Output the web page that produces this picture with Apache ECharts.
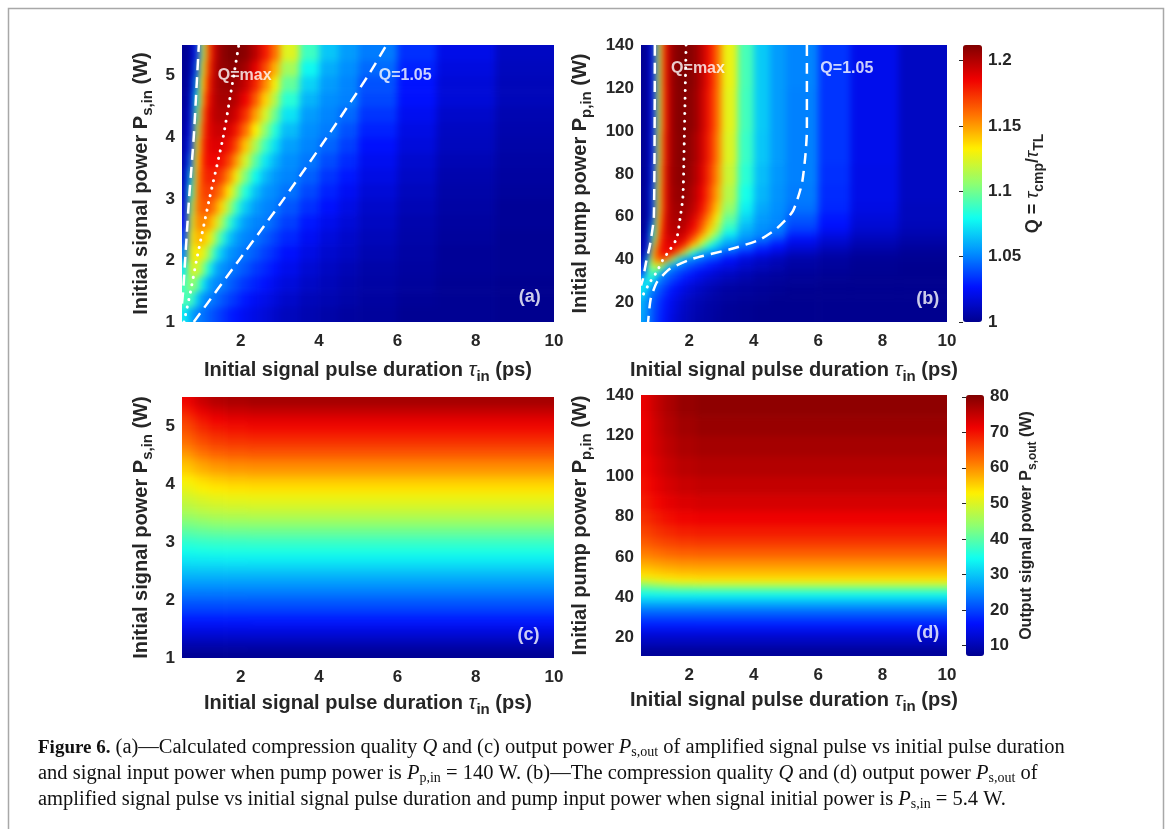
<!DOCTYPE html>
<html>
<head>
<meta charset="utf-8">
<title>Figure 6</title>
<script src="https://cdn.jsdelivr.net/npm/echarts@6.0.0/dist/echarts.min.js"></script>
<style>
  html, body { margin: 0; padding: 0; background: #fff; }
  #wrap { position: relative; width: 1166px; height: 829px; overflow: hidden; }
  #wrap > div { position: absolute; left: 0; top: 0; width: 1166px; height: 829px; }
  /* smooth shading of the colour maps, clipped to the four plot boxes */
  #heat {
    filter: blur(3.5px);
    clip-path: path('M182 45 H554 V322 H182 Z M641 45 H947 V322 H641 Z M182 397 H554 V658 H182 Z M641 395 H947 V656 H641 Z');
  }
</style>
</head>
<body>
<div id="wrap">
  <div id="heat"></div>
  <div id="chart"></div>
</div>
<script>
// ---- axes / ticks ----
const tauTicks = [2, 4, 6, 8, 10];
const signalTicks = [1, 2, 3, 4, 5];
const pumpTicks = [20, 40, 60, 80, 100, 120, 140];
const qTicks = [1, 1.05, 1.1, 1.15, 1.2];
const powerTicks = [10, 20, 30, 40, 50, 60, 70, 80];

// cell edges (tau in ps, powers in W)
const tauEdges = [0.5, 0.65, 0.8, 0.95, 1.1, 1.25, 1.4, 1.6, 1.8, 2.0, 2.25, 2.5, 2.75, 3.0, 3.5, 4.0, 4.5, 5.0, 6.0, 7.0, 8.5, 10];
const signalEdgesA = [1, 1.25, 1.5, 1.75, 2, 2.25, 2.5, 2.75, 3, 3.25, 3.5, 3.75, 4, 4.25, 4.5, 4.75, 5, 5.25, 5.5];
const pumpEdgesB = [11, 15, 19, 23, 27, 30, 33, 36, 39, 42, 45, 48, 51, 54, 58, 62, 67, 75, 85, 100, 120, 140];
const tauEdgesCD = [0.5, 0.7, 0.9, 1.2, 1.6, 2.2, 10];
const signalEdgesC = [1, 1.15, 1.3, 1.45, 1.6, 1.75, 1.9, 2.05, 2.2, 2.35, 2.5, 2.65, 2.8, 2.95, 3.1, 3.25, 3.4, 3.55, 3.7, 3.85, 4.0, 4.15, 4.3, 4.45, 4.6, 4.75, 4.9, 5.05, 5.2, 5.35, 5.5];
const pumpEdgesD = [11, 16, 21, 25, 29, 32, 35, 38, 40, 42, 44, 46, 48, 50, 53, 56, 60, 65, 70, 76, 83, 91, 100, 110, 120, 130, 140];

// (a) compression quality Q, rows from P_s,in = 1 W upwards
const qA = [
  [1.075,1.060,1.051,1.047,1.043,1.039,1.035,1.030,1.027,1.023,1.020,1.017,1.014,1.011,1.008,1.006,1.004,1.003,1.001,1.001,1.000],
  [1.091,1.092,1.069,1.054,1.050,1.047,1.042,1.037,1.033,1.028,1.024,1.021,1.018,1.014,1.010,1.008,1.006,1.004,1.002,1.001,1.000],
  [1.089,1.110,1.100,1.076,1.059,1.052,1.050,1.044,1.039,1.034,1.030,1.026,1.022,1.018,1.013,1.010,1.007,1.005,1.003,1.001,1.000],
  [1.074,1.124,1.124,1.107,1.083,1.064,1.054,1.050,1.046,1.041,1.035,1.031,1.027,1.022,1.016,1.012,1.009,1.006,1.004,1.002,1.001],
  [1.050,1.128,1.135,1.129,1.111,1.088,1.067,1.055,1.051,1.047,1.042,1.036,1.032,1.026,1.020,1.015,1.012,1.008,1.005,1.002,1.001],
  [1.036,1.126,1.145,1.144,1.134,1.114,1.089,1.067,1.056,1.051,1.048,1.042,1.037,1.031,1.024,1.018,1.014,1.010,1.006,1.003,1.001],
  [1.025,1.117,1.152,1.155,1.151,1.138,1.114,1.088,1.068,1.056,1.051,1.049,1.043,1.036,1.028,1.022,1.017,1.012,1.007,1.004,1.002],
  [1.018,1.104,1.155,1.165,1.165,1.157,1.138,1.112,1.087,1.067,1.056,1.051,1.049,1.041,1.033,1.026,1.020,1.014,1.009,1.005,1.002],
  [1.013,1.086,1.152,1.170,1.172,1.169,1.157,1.134,1.108,1.083,1.065,1.055,1.052,1.047,1.038,1.030,1.024,1.017,1.011,1.006,1.003],
  [1.010,1.065,1.145,1.173,1.178,1.178,1.171,1.153,1.129,1.102,1.078,1.063,1.055,1.051,1.043,1.034,1.028,1.020,1.013,1.007,1.004],
  [1.007,1.045,1.136,1.174,1.184,1.185,1.182,1.170,1.149,1.122,1.095,1.074,1.062,1.053,1.048,1.039,1.032,1.023,1.015,1.009,1.005],
  [1.005,1.032,1.123,1.171,1.187,1.190,1.190,1.182,1.166,1.141,1.113,1.089,1.072,1.057,1.051,1.044,1.036,1.026,1.018,1.011,1.006],
  [1.004,1.023,1.108,1.165,1.188,1.194,1.195,1.191,1.179,1.159,1.132,1.106,1.084,1.064,1.053,1.049,1.040,1.030,1.020,1.012,1.007],
  [1.003,1.017,1.093,1.158,1.188,1.198,1.200,1.199,1.191,1.174,1.149,1.123,1.099,1.073,1.056,1.051,1.045,1.034,1.023,1.014,1.008],
  [1.002,1.012,1.075,1.147,1.183,1.198,1.203,1.203,1.198,1.185,1.164,1.139,1.115,1.085,1.062,1.053,1.050,1.038,1.026,1.017,1.010],
  [1.001,1.009,1.057,1.136,1.178,1.198,1.205,1.206,1.204,1.195,1.177,1.154,1.130,1.097,1.069,1.056,1.051,1.040,1.027,1.017,1.010],
  [1.001,1.006,1.041,1.123,1.171,1.196,1.207,1.209,1.209,1.203,1.188,1.168,1.145,1.111,1.078,1.060,1.053,1.045,1.030,1.019,1.011],
  [1.001,1.005,1.030,1.110,1.164,1.193,1.207,1.212,1.212,1.209,1.198,1.180,1.159,1.125,1.089,1.066,1.056,1.049,1.033,1.021,1.012]
];

// (b) compression quality Q, rows from P_p,in = 11 W upwards
const qB = [
  [1.058,1.049,1.040,1.033,1.028,1.023,1.018,1.014,1.011,1.008,1.006,1.005,1.003,1.002,1.001,1.000,1.000,1.000,1.000,1.000,1.000],
  [1.060,1.049,1.041,1.034,1.029,1.024,1.020,1.015,1.012,1.009,1.007,1.005,1.004,1.002,1.001,1.000,1.000,1.000,1.000,1.000,1.000],
  [1.061,1.050,1.042,1.036,1.030,1.026,1.021,1.017,1.013,1.010,1.008,1.006,1.005,1.003,1.002,1.001,1.000,1.000,1.000,1.000,1.000],
  [1.074,1.054,1.047,1.041,1.035,1.030,1.025,1.021,1.017,1.014,1.011,1.008,1.006,1.004,1.003,1.002,1.001,1.000,1.000,1.000,1.000],
  [1.073,1.078,1.052,1.047,1.041,1.036,1.030,1.025,1.021,1.017,1.014,1.011,1.009,1.006,1.004,1.003,1.002,1.001,1.000,1.000,1.000],
  [1.057,1.084,1.082,1.052,1.047,1.042,1.037,1.032,1.027,1.023,1.019,1.015,1.013,1.010,1.007,1.004,1.003,1.002,1.001,1.000,1.000],
  [1.037,1.087,1.095,1.085,1.054,1.049,1.044,1.038,1.034,1.029,1.024,1.021,1.017,1.014,1.010,1.007,1.005,1.003,1.002,1.001,1.000],
  [1.022,1.093,1.121,1.125,1.114,1.076,1.053,1.049,1.043,1.038,1.033,1.028,1.024,1.020,1.015,1.011,1.008,1.005,1.003,1.001,1.000],
  [1.010,1.071,1.144,1.163,1.165,1.154,1.115,1.074,1.055,1.050,1.045,1.039,1.035,1.026,1.018,1.013,1.010,1.006,1.004,1.002,1.001],
  [1.006,1.041,1.136,1.175,1.184,1.185,1.177,1.150,1.115,1.082,1.061,1.053,1.050,1.040,1.031,1.024,1.018,1.012,1.007,1.004,1.002],
  [1.004,1.028,1.115,1.165,1.183,1.188,1.188,1.181,1.163,1.136,1.105,1.080,1.065,1.054,1.045,1.033,1.026,1.018,1.012,1.007,1.004],
  [1.003,1.020,1.097,1.155,1.182,1.191,1.193,1.192,1.182,1.162,1.135,1.107,1.085,1.063,1.053,1.046,1.036,1.024,1.016,1.010,1.006],
  [1.002,1.013,1.080,1.148,1.181,1.194,1.197,1.197,1.191,1.176,1.154,1.128,1.105,1.077,1.058,1.052,1.046,1.032,1.021,1.013,1.008],
  [1.001,1.009,1.061,1.139,1.178,1.195,1.200,1.200,1.196,1.185,1.165,1.142,1.119,1.089,1.064,1.054,1.051,1.038,1.026,1.016,1.010],
  [1.001,1.006,1.041,1.128,1.175,1.195,1.202,1.203,1.201,1.191,1.174,1.152,1.129,1.098,1.070,1.056,1.052,1.042,1.028,1.018,1.011],
  [1.001,1.006,1.037,1.121,1.170,1.194,1.203,1.205,1.204,1.197,1.182,1.162,1.140,1.108,1.076,1.059,1.053,1.047,1.031,1.020,1.011],
  [1.001,1.006,1.037,1.120,1.170,1.194,1.205,1.207,1.207,1.200,1.187,1.168,1.147,1.115,1.081,1.062,1.054,1.049,1.032,1.021,1.012],
  [1.001,1.005,1.032,1.116,1.168,1.195,1.206,1.209,1.209,1.203,1.191,1.173,1.152,1.120,1.085,1.064,1.055,1.050,1.033,1.021,1.012],
  [1.001,1.004,1.028,1.110,1.165,1.193,1.206,1.210,1.210,1.205,1.194,1.177,1.156,1.124,1.088,1.066,1.056,1.050,1.034,1.022,1.012],
  [1.001,1.004,1.025,1.105,1.161,1.191,1.207,1.211,1.210,1.208,1.196,1.179,1.159,1.126,1.090,1.067,1.056,1.050,1.034,1.022,1.012],
  [1.001,1.004,1.025,1.105,1.162,1.192,1.207,1.212,1.212,1.209,1.198,1.181,1.160,1.128,1.091,1.067,1.056,1.051,1.034,1.022,1.012]
];

// (c) output signal power (W), rows from P_s,in = 1 W upwards
const powerC = [
  [7.5,7.5,7.5,7.5,7.5,7.5],
  [9.5,9.5,9.5,9.5,9.5,9.5],
  [12,12,12,12,12,12],
  [14.5,14.5,14.5,14.5,14.5,14.5],
  [17,17,17,17,17,17],
  [19.5,19.5,19.5,19.5,19.5,19.5],
  [21.5,21.5,21.5,21.5,21.5,21.5],
  [23.8,23.8,23.8,23.8,23.8,23.8],
  [26,26,26,26,26,26],
  [28.4,28.4,28.4,28.4,28.4,28.4],
  [30.7,30.8,30.9,30.9,31,31],
  [32.8,32.9,33.1,33.2,33.3,33.3],
  [35.1,35.3,35.5,35.7,35.8,35.8],
  [37,37.3,37.6,37.8,37.9,38],
  [39.7,40,40.4,40.7,40.9,41],
  [42.3,42.7,43.2,43.7,43.9,44],
  [45,45.5,46.1,46.6,46.9,47],
  [47.2,47.8,48.5,49,49.3,49.5],
  [48.9,49.6,50.3,51,51.3,51.5],
  [51,51.8,52.7,53.4,53.8,54],
  [52.5,53.4,54.4,55.3,55.8,56],
  [55,56,57.2,58.2,58.7,59],
  [56.5,57.6,59,60.1,60.7,61],
  [59,60.3,61.8,63,63.7,64],
  [61.3,62.6,64.2,65.5,66.1,66.5],
  [63.1,64.5,66.1,67.4,68.1,68.5],
  [64.9,66.3,68,69.4,70.1,70.5],
  [66.5,68,69.8,71.3,72.1,72.5],
  [68.7,70.3,72.2,73.7,74.6,75],
  [71,72.6,74.6,76.2,77,77.5]
];

// (d) output signal power (W), rows from P_p,in = 11 W upwards
const powerD = [
  [8,8,8,8,8,8],
  [11,11,11,11,11,11],
  [14,14,14,14,14,14],
  [17.5,17.5,17.5,17.5,17.5,17.5],
  [20.5,20.5,20.5,20.5,20.5,20.5],
  [23,23,23,23,23,23],
  [27,27,27,27,27,27],
  [30.5,30.5,30.5,30.5,30.5,30.5],
  [33.5,33.5,33.5,33.5,33.5,33.5],
  [36,36.2,36.5,36.7,36.9,37],
  [40,40.5,41.1,41.8,42.3,42.5],
  [45,45.8,46.8,47.8,48.6,49],
  [50.5,51.1,51.9,52.6,53.2,53.5],
  [54,54.4,54.9,55.4,55.8,56],
  [56,56.4,56.9,57.4,57.8,58],
  [58.5,58.9,59.4,59.9,60.3,60.5],
  [61.3,61.8,62.4,63.1,63.6,63.8],
  [63.8,64.4,65.2,65.9,66.5,66.8],
  [65.8,66.5,67.4,68.2,68.9,69.3],
  [67.5,68.3,69.3,70.3,71.1,71.5],
  [69,69.9,71,72.2,73,73.5],
  [70,71,72.3,73.5,74.5,75],
  [70.8,71.9,73.3,74.7,75.8,76.3],
  [71.5,72.7,74.2,75.7,76.9,77.5],
  [71.5,72.9,74.7,76.4,77.8,78.5],
  [71.8,73.3,75.2,77,78.6,79.3]
];

// Q = 1.05 contours and Q = max ridge
const contourARight = [[0.8, 1], [1.95, 2], [3.1, 3], [4.2, 4], [5.25, 5], [5.72, 5.5]];
const contourALeft = [[0.5, 1.3], [0.53, 1.5], [0.58, 2], [0.68, 3], [0.8, 4], [0.87, 4.8], [0.93, 5.5]];
const ridgeA = [[0.55, 1], [0.72, 1.5], [0.87, 2], [1.2, 3], [1.55, 4], [1.82, 5], [1.95, 5.5]];
const contourBRight = [[5.65, 140], [5.65, 100], [5.6, 88], [5.49, 75], [5.21, 62.5], [4.72, 54.6], [4.19, 49.4], [3.35, 45.2], [2.11, 40.5], [1.4, 35.8], [1.0, 29.7], [0.8, 21.7], [0.72, 11]];
const contourBLeft = [[0.93, 140], [0.9, 60], [0.78, 47], [0.66, 39], [0.56, 31], [0.5, 28]];
const ridgeB = [[1.9, 140], [1.83, 85], [1.8, 69], [1.71, 59], [1.61, 50], [1.4, 44.7], [1.18, 40], [0.99, 34.4], [0.78, 29.6], [0.56, 23.5], [0.5, 21]];

// ---- styling ----
const FONT = '"Liberation Sans", Arial, sans-serif';
const SERIF = '"Liberation Serif", "Times New Roman", serif';
const INK = '#262626';
const jet = ['#00008f', '#0010ff', '#008fff', '#10fff0', '#8fff70', '#fff000', '#ff7000', '#f00000', '#800000'];

// plot boxes (px), shared by both layers
const boxes = [
  { left: 182, top: 45, width: 372, height: 277 },
  { left: 641, top: 45, width: 306, height: 277 },
  { left: 182, top: 397, width: 372, height: 261 },
  { left: 641, top: 395, width: 306, height: 261 }
];
const ranges = [
  { x: [0.5, 10], y: [1, 5.5] },
  { x: [0.5, 10], y: [11, 140] },
  { x: [0.5, 10], y: [1, 5.5] },
  { x: [0.5, 10], y: [11, 140] }
];

const tickText = { color: INK, fontSize: 17, fontWeight: 'bold', fontFamily: FONT };
const titleText = {
  color: INK, fontSize: 20, fontWeight: 'bold', fontFamily: FONT,
  rich: {
    sub: { fontSize: 15, fontWeight: 'bold', fontFamily: FONT, color: INK, padding: [13, 0, 0, 0] },
    tau: { fontSize: 21, fontStyle: 'italic', fontWeight: 'normal', fontFamily: FONT, color: INK }
  }
};

// one rectangle per cell: [x0, x1, y0, y1, value]
function cells(xEdges, yEdges, rows) {
  const out = [];
  rows.forEach((row, j) => {
    row.forEach((v, i) => out.push([xEdges[i], xEdges[i + 1], yEdges[j], yEdges[j + 1], v]));
  });
  return out;
}

// border cells run a little past the box so the blur has colour to work with
const PAD = 12;
function cellRenderer(range) {
  return (params, api) => {
    const x0 = api.value(0), x1 = api.value(1), y0 = api.value(2), y1 = api.value(3);
    const a = api.coord([x0, y1]);
    const b = api.coord([x1, y0]);
    let l = a[0], t = a[1], r = b[0] + 0.6, btm = b[1] + 0.6;
    if (x0 <= range.x[0]) l -= PAD;
    if (x1 >= range.x[1]) r += PAD;
    if (y0 <= range.y[0]) btm += PAD;
    if (y1 >= range.y[1]) t -= PAD;
    return { type: 'rect', shape: { x: l, y: t, width: r - l, height: btm - t }, style: { fill: api.visual('color') } };
  };
}

function heat(idx, data) {
  return {
    type: 'custom', xAxisIndex: idx, yAxisIndex: idx, data,
    encode: { x: [0, 1], y: [2, 3] }, renderItem: cellRenderer(ranges[idx]), clip: false, silent: true
  };
}

function xAxisFor(gridIndex, gap) {
  return {
    type: 'value', gridIndex, min: 0.5, max: 10, z: 5,
    axisLine: { show: false }, axisTick: { show: false }, splitLine: { show: false },
    axisLabel: { ...tickText, margin: 11, customValues: tauTicks },
    name: 'Initial signal pulse duration {tau|τ}{sub|in} (ps)',
    nameLocation: 'middle', nameGap: gap, nameTextStyle: titleText
  };
}

function yAxisFor(gridIndex, ticks, name, gap) {
  return {
    type: 'value', gridIndex, min: ranges[gridIndex].y[0], max: ranges[gridIndex].y[1], z: 5,
    axisLine: { show: false }, axisTick: { show: false }, splitLine: { show: false },
    axisLabel: { ...tickText, margin: 7, customValues: ticks },
    name, nameLocation: 'middle', nameGap: gap, nameTextStyle: titleText
  };
}

function colorbarAxis(gridIndex, min, max, ticks, name, gap, fontSize) {
  return {
    type: 'value', gridIndex, min, max, position: 'right', z: 10,
    axisLine: { show: false }, splitLine: { show: false },
    axisTick: { show: true, inside: true, length: 4, customValues: ticks, lineStyle: { color: INK } },
    axisLabel: { ...tickText, margin: 6, customValues: ticks },
    name, nameLocation: 'middle', nameRotate: 90, nameGap: gap, nameMoveOverlap: false,
    nameTextStyle: { ...titleText, fontSize, rich: {
      sub: { fontSize: fontSize - 4, fontWeight: 'bold', fontFamily: FONT, color: INK, padding: [12, 0, 0, 0] },
      tau: { fontSize: fontSize + 1, fontStyle: 'italic', fontWeight: 'normal', fontFamily: FONT, color: INK }
    } }
  };
}

function curve(idx, data, dotted) {
  return {
    type: 'line', xAxisIndex: idx, yAxisIndex: idx, data, symbol: 'none', smooth: 0.2,
    silent: true, z: 5,
    lineStyle: dotted
      ? { color: '#fff', width: 3, type: [0.1, 7.5], cap: 'round' }
      : { color: '#fff', width: 2.5, type: [11, 7] }
  };
}

function notes(idx, items) {
  return {
    type: 'scatter', xAxisIndex: idx, yAxisIndex: idx, symbolSize: 0, silent: true, z: 6,
    data: items.map(([name, x, y, size]) => ({
      name, value: [x, y],
      label: { show: true, position: 'inside', formatter: '{b}', color: '#fff', fontWeight: 'bold', fontFamily: FONT, fontSize: size }
    }))
  };
}

// ---- colour-map layer ----
const heatChart = echarts.init(document.getElementById('heat'), null, { renderer: 'canvas' });
heatChart.setOption({
  animation: false,
  grid: boxes.map(b => ({ ...b, containLabel: false, outerBoundsMode: 'none' })),
  xAxis: ranges.map((r, i) => ({ type: 'value', gridIndex: i, show: false, min: r.x[0], max: r.x[1] })),
  yAxis: ranges.map((r, i) => ({ type: 'value', gridIndex: i, show: false, min: r.y[0], max: r.y[1] })),
  visualMap: [
    { type: 'continuous', show: false, seriesIndex: [0, 1], dimension: 4, min: 1, max: 1.212, inRange: { color: jet } },
    { type: 'continuous', show: false, seriesIndex: [2, 3], dimension: 4, min: 7, max: 80.5, inRange: { color: jet } }
  ],
  series: [
    heat(0, cells(tauEdges, signalEdgesA, qA)),
    heat(1, cells(tauEdges, pumpEdgesB, qB)),
    heat(2, cells(tauEdgesCD, signalEdgesC, powerC)),
    heat(3, cells(tauEdgesCD, pumpEdgesD, powerD))
  ]
});

// ---- axes, contours, colour bars, caption ----
const captionRich = {
  b: { fontWeight: 'bold', fontSize: 19, fontFamily: SERIF, fill: '#111' },
  i: { fontStyle: 'italic', fontSize: 20.5, fontFamily: SERIF, fill: '#111' },
  s: { fontSize: 14, fontFamily: SERIF, fill: '#111', padding: [9, 0, 0, 0] }
};
const captionLines = [
  '{b|Figure 6.} (a)—Calculated compression quality {i|Q} and (c) output power {i|P}{s|s,out} of amplified signal pulse vs initial pulse duration',
  'and signal input power when pump power is {i|P}{s|p,in} = 140 W. (b)—The compression quality {i|Q} and (d) output power {i|P}{s|s,out} of',
  'amplified signal pulse vs initial signal pulse duration and pump input power when signal initial power is {i|P}{s|s,in} = 5.4 W.'
];

const chart = echarts.init(document.getElementById('chart'), null, { renderer: 'canvas' });
chart.setOption({
  animation: false,
  backgroundColor: 'transparent',
  grid: [
    ...boxes.map(b => ({ ...b, containLabel: false, outerBoundsMode: 'none' })),
    { left: 963, top: 45, width: 19, height: 277, containLabel: false, outerBoundsMode: 'none' },
    { left: 966, top: 395, width: 18, height: 261, containLabel: false, outerBoundsMode: 'none' }
  ],
  xAxis: [
    xAxisFor(0, 34), xAxisFor(1, 34), xAxisFor(2, 31), xAxisFor(3, 30),
    { type: 'value', gridIndex: 4, show: false, min: 0, max: 1 },
    { type: 'value', gridIndex: 5, show: false, min: 0, max: 1 }
  ],
  yAxis: [
    yAxisFor(0, signalTicks, 'Initial signal power P{sub|s,in} (W)', 27),
    yAxisFor(1, pumpTicks, 'Initial pump power P{sub|p,in} (W)', 47),
    yAxisFor(2, signalTicks, 'Initial signal power P{sub|s,in} (W)', 27),
    yAxisFor(3, pumpTicks, 'Initial pump power P{sub|p,in} (W)', 47),
    colorbarAxis(4, 1, 1.212, qTicks, 'Q = {tau|τ}{sub|cmp}/{tau|τ}{sub|TL}', 38, 18),
    colorbarAxis(5, 7, 80.5, powerTicks, 'Output signal power P{sub|s,out} (W)', 31, 16)
  ],
  visualMap: [
    {
      type: 'continuous', seriesIndex: [], dimension: 4, min: 1, max: 1.212,
      inRange: { color: jet }, calculable: false, hoverLink: false, orient: 'vertical',
      left: 963, top: 45, itemWidth: 19, itemHeight: 277, padding: 0, text: null
    },
    {
      type: 'continuous', seriesIndex: [], dimension: 4, min: 7, max: 80.5,
      inRange: { color: jet }, calculable: false, hoverLink: false, orient: 'vertical',
      left: 966, top: 395, itemWidth: 18, itemHeight: 261, padding: 0, text: null
    }
  ],
  series: [
    curve(0, contourALeft, false),
    curve(0, contourARight, false),
    curve(0, ridgeA, true),
    curve(1, contourBLeft, false),
    curve(1, contourBRight, false),
    curve(1, ridgeB, true),
    notes(0, [['Q=max', 2.1, 5.0, 16], ['Q=1.05', 6.2, 5.0, 16], ['(a)', 9.38, 1.41, 18]]),
    notes(1, [['Q=max', 2.27, 129, 16], ['Q=1.05', 6.89, 129, 16], ['(b)', 9.4, 21.7, 18]]),
    notes(2, [['(c)', 9.35, 1.4, 18]]),
    notes(3, [['(d)', 9.4, 22.4, 18]])
  ],
  graphic: [
    {
      type: 'rect', silent: true, z: -1,
      shape: { x: 8.5, y: 8.5, width: 1155, height: 850 },
      style: { fill: 'none', stroke: '#a8a8a8', lineWidth: 1.5 }
    },
    ...captionLines.map((text, k) => ({
      type: 'text', silent: true, x: 38, y: 748 + k * 26,
      style: {
        text, rich: captionRich, fill: '#111', fontSize: 20.5,
        fontFamily: SERIF, verticalAlign: 'middle', align: 'left'
      }
    }))
  ]
});
</script>
</body>
</html>
